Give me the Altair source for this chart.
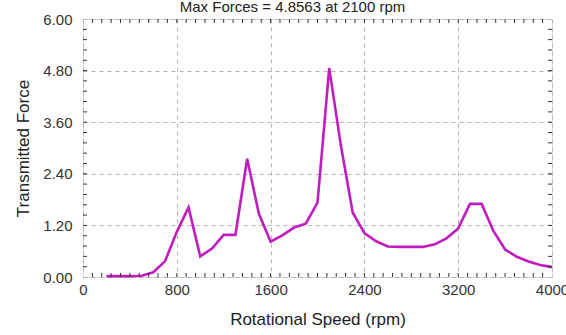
import altair as alt
import pandas as pd

rpm = [200, 300, 400, 500, 600, 700, 800, 900, 1000, 1100, 1200, 1300, 1400,
       1500, 1600, 1700, 1800, 1900, 2000, 2100, 2200, 2300, 2400, 2500, 2600,
       2700, 2800, 2900, 3000, 3100, 3200, 3300, 3400, 3500, 3600, 3700, 3800,
       3900, 4000]
force = [0.02, 0.02, 0.02, 0.03, 0.11, 0.37, 1.05, 1.62, 0.48, 0.66, 0.98, 0.98,
         2.75, 1.47, 0.82, 0.97, 1.15, 1.24, 1.73, 4.8563, 3.05, 1.50, 1.02, 0.83,
         0.71, 0.70, 0.70, 0.70, 0.76, 0.90, 1.13, 1.70, 1.70, 1.07, 0.64, 0.47,
         0.36, 0.28, 0.23]

x_major = [0, 800, 1600, 2400, 3200, 4000]
y_major = [0, 1.2, 2.4, 3.6, 4.8, 6.0]
x_minor = [i * 80 for i in range(1, 50)]
y_minor = [round(i * 0.24, 2) for i in range(1, 25)]

title_text = "Max Forces = 4.8563 at 2100 rpm"
x_title = "Rotational Speed (rpm)"
y_title = "Transmitted Force"

df = pd.DataFrame({"rpm": rpm, "force": force})
dfx = pd.DataFrame({"t": x_minor})
dfy = pd.DataFrame({"t": y_minor})

FONT = "Liberation Sans"
W, H = 469, 258
TL = 4
TC = "#333333"

xs = alt.Scale(domain=[0, 4000], nice=False, zero=False)
ys = alt.Scale(domain=[0, 6], nice=False, zero=False)

main = alt.Chart(df).mark_line(color="#C01CC0", strokeWidth=2.6).encode(
    x=alt.X("rpm:Q", scale=xs, axis=alt.Axis(
        values=x_major, format="d", title=x_title, grid=True, ticks=False,
        domain=False, labelPadding=5, labelFontSize=15, labelColor="#333333",
        labelFont=FONT, titleFont=FONT, titleFontSize=17, titleFontWeight="normal",
        titleColor="#222222", titleBaseline="alphabetic", titleY=47,
        gridColor="#b4b4b4", gridDash=[4, 4], gridWidth=1, labelFlush=False)),
    y=alt.Y("force:Q", scale=ys, axis=alt.Axis(
        values=y_major, format=".2f", title=y_title, grid=True, ticks=False,
        domain=False, labelPadding=11, labelFontSize=15, labelColor="#333333",
        labelFont=FONT, titleFont=FONT, titleFontSize=17, titleFontWeight="normal",
        titleColor="#222222", titleBaseline="alphabetic", titleX=-55,
        gridColor="#b4b4b4", gridDash=[4, 4], gridWidth=1, labelFlush=False)),
)

xb = alt.Chart(dfx).mark_rule(color=TC, strokeWidth=1).encode(
    x=alt.X("t:Q", scale=xs), y=alt.value(H), y2=alt.value(H - TL))
xt = alt.Chart(dfx).mark_rule(color=TC, strokeWidth=1).encode(
    x=alt.X("t:Q", scale=xs), y=alt.value(0), y2=alt.value(TL))
yl = alt.Chart(dfy).mark_rule(color=TC, strokeWidth=1).encode(
    y=alt.Y("t:Q", scale=ys), x=alt.value(0), x2=alt.value(TL))
yr = alt.Chart(dfy).mark_rule(color=TC, strokeWidth=1).encode(
    y=alt.Y("t:Q", scale=ys), x=alt.value(W), x2=alt.value(W - TL))

chart = alt.layer(main, xb, xt, yl, yr).properties(
    width=W, height=H,
    title=alt.TitleParams(title_text, font=FONT, fontSize=15, fontWeight="normal",
                          color="#222222", anchor="middle", dx=-25, dy=5, offset=2),
    autosize=alt.AutoSizeParams(type="none"),
    padding={"left": 83, "top": 19, "right": 14, "bottom": 58},
).configure_view(stroke="#222222", strokeWidth=1).configure(background="white")

chart.save("out.html", embed_options={"renderer": "svg", "actions": False})
